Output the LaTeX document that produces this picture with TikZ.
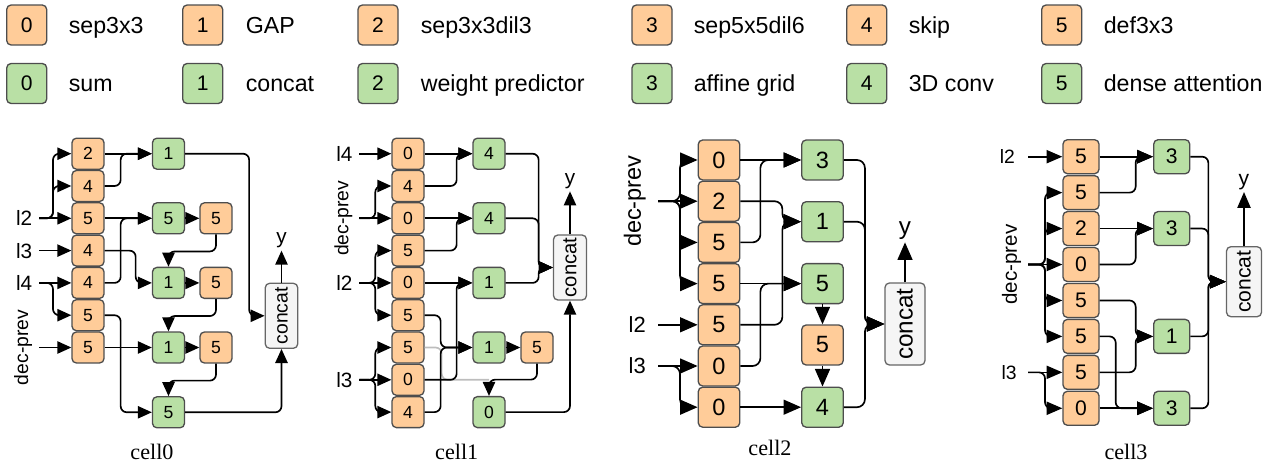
\documentclass[tikz,border=0pt]{standalone}
\usepackage{fontspec}
\setmainfont{Liberation Sans}
\newfontfamily\capfont{Liberation Serif}
\usetikzlibrary{arrows.meta,positioning}
\newcommand{\fsz}[1]{\fontsize{#1}{#1}\selectfont}

\definecolor{opfill}{HTML}{FFCC99}
\definecolor{aggfill}{HTML}{B9E0A5}
\definecolor{boxline}{HTML}{4D4D4D}
\definecolor{catfill}{HTML}{F5F5F5}
\definecolor{catline}{HTML}{666666}
\definecolor{skipgray}{HTML}{BDBDBD}

\tikzset{
  op/.style={draw=boxline, fill=opfill, rounded corners=2.5pt, line width=0.75pt, inner sep=0pt},
  agg/.style={op, fill=aggfill},
  catbox/.style={draw=catline, fill=catfill, rounded corners=2.5pt, line width=0.75pt, inner sep=0pt},
  small/.style={minimum width=0.64cm, minimum height=0.62cm, font=\fsz{10}},
  medium/.style={minimum width=0.72cm, minimum height=0.68cm, font=\fsz{12}},
  large/.style={minimum width=0.83cm, minimum height=0.8cm, font=\fsz{13.4}},
  legend/.style={minimum width=0.8cm, minimum height=0.8cm, font=\fsz{12}},
  legtext/.style={anchor=base west, inner sep=0pt, font=\fsz{13.2}},
  inl/.style={anchor=east, inner sep=3.4pt, font=\fsz{11.8}},
  outl/.style={inner sep=1pt, font=\fsz{11.8}},
  cellname/.style={font=\capfont\fsz{12.6}},
  wire/.style={->, rounded corners=3.5pt}
}

\begin{document}
\begin{tikzpicture}[x=0.02cm, y=-0.02cm, line width=0.95pt, >={Triangle[length=8pt,width=7pt]}]
 \useasboundingbox (0,0) rectangle (1271,466);

 % legend
 \foreach \t/\bx/\tx/\txt in {0/26.7/68/sep3x3, 1/202.7/245/GAP, 2/378/420/sep3x3dil3,
     3/652/693/sep5x5dil6, 4/866.7/908/skip, 5/1061.7/1103/def3x3} {
   \node[op, legend] (lo\t) at (\bx,25) {\t};
   \node[legtext] (lot\t) at (\tx,33.3) {\txt};
 }
 \foreach \t/\bx/\tx/\txt in {0/26.7/68/sum, 1/202.7/245/concat, 2/378/420/weight predictor,
     3/652/693/affine grid, 4/866.7/908/3D conv, 5/1061.7/1103/dense attention} {
   \node[agg, legend] (lg\t) at (\bx,83.5) {\t};
   \node[legtext] (lgt\t) at (\tx,91.7) {\txt};
 }

 % cell0
 \foreach \t [count=\i] in {2,4,5,4,4,5,5}
   \node[op, small] (c0o\i) at (88,{153.7+32.3*(\i-1)}) {\t};
 \node[agg, small] (c0g1) at (168.5,0 |- c0o1) {1};
 \node[agg, small] (c0g2) at (168.5,0 |- c0o3) {5};
 \node[agg, small] (c0g3) at (168.5,0 |- c0o5) {1};
 \node[agg, small] (c0g4) at (168.5,0 |- c0o7) {1};
 \node[agg, small] (c0g5) at (168.5,412.3) {5};
 \node[op, small] (c0p1) at (216,0 |- c0o3) {5};
 \node[op, small] (c0p2) at (216,0 |- c0o5) {5};
 \node[op, small] (c0p3) at (216,0 |- c0o7) {5};
 \node[catbox, minimum width=0.65cm, minimum height=1.3cm, font=\fsz{11}] (c0cat) at (281.5,315.8) {\rotatebox{90}{concat}};
 \node[outl, above=0.64cm of c0cat] (c0y) {y};
 \node[inl] (c0l2) at (39,0 |- c0o3) {l2};
 \node[inl] (c0l3) at (39,0 |- c0o4) {l3};
 \node[inl] (c0l4) at (39,0 |- c0o5) {l4};
 \node[inl, font=\fsz{11}] (c0dp) at (39,0 |- c0o7) {\rotatebox{90}{dec-prev}};
 \node[cellname] (c0name) at (152,452) {cell0};

 \draw[->] (c0l2.east) -- (c0o3.west);
 \draw[wire] (c0l2.east) -- ++(14,0) |- (c0o1.west);
 \draw[wire] (c0l2.east) -- ++(14,0) |- (c0o2.west);
 \draw[->] (c0l3.east) -- (c0o4.west);
 \draw[->] (c0l4.east) -- (c0o5.west);
 \draw[wire] (c0l4.east) -- ++(14,0) |- (c0o6.west);
 \draw[->] (c0dp.east) -- (c0o7.west);
 \draw[->] (c0o1.east) -- (c0g1.west);
 \draw[wire] (c0o2.east) -- ++(16,0) |- (c0g1.west);
 \draw[->] (c0o3.east) -- (c0g2.west);
 \draw[wire] (c0o5.east) -- ++(16,0) |- (c0g2.west);
 \draw[->] (c0g2) -- (c0p1);
 \draw[wire] (c0p1.south) -- ++(0,17) -| (c0g3.north);
 \draw[wire] (c0o4.east) -- ++(31,0) |- (c0g3.west);
 \draw[->] (c0g3) -- (c0p2);
 \draw[wire] (c0p2.south) -- ++(0,17) -| (c0g4.north);
 \draw[->] (c0o7.east) -- (c0g4.west);
 \draw[->] (c0g4) -- (c0p3);
 \draw[wire] (c0p3.south) -- ++(0,17) -| (c0g5.north);
 \draw[wire] (c0o6.east) -- ++(16,0) |- (c0g5.west);
 \draw[wire] (c0g1.east) -- ++(64,0) |- (c0cat.west);
 \draw[wire] (c0g5.east) -| (c0cat.south);
 \draw[->] (c0cat) -- (c0y);

 % cell1
 \foreach \t [count=\i] in {0,4,0,5,0,5,5,0,4}
   \node[op, small] (c1o\i) at (408,{153.7+32.3*(\i-1)}) {\t};
 \node[agg, small] (c1g1) at (489,0 |- c1o1) {4};
 \node[agg, small] (c1g2) at (489,0 |- c1o3) {4};
 \node[agg, small] (c1g3) at (489,0 |- c1o5) {1};
 \node[agg, small] (c1g4) at (489,0 |- c1o7) {1};
 \node[agg, small] (c1g5) at (489,0 |- c1o9) {0};
 \node[op, small] (c1p1) at (537,0 |- c1o7) {5};
 \node[catbox, minimum width=0.66cm, minimum height=1.3cm, font=\fsz{11.5}] (c1cat) at (570,267.5) {\rotatebox{90}{concat}};
 \node[outl, above=0.86cm of c1cat] (c1y) {y};
 \node[inl] (c1l4) at (359.3,0 |- c1o1) {l4};
 \node[inl, font=\fsz{11}] (c1dp) at (359.3,0 |- c1o3) {\rotatebox{90}{dec-prev}};
 \node[inl] (c1l2) at (359.3,0 |- c1o5) {l2};
 \node[inl] (c1l3) at (359.3,0 |- c1o8) {l3};
 \node[cellname] (c1name) at (456.7,451.7) {cell1};

 \draw[skipgray, rounded corners=3.5pt] (c1o7.east) -- ++(17,0) |- (c1g5.north |- c1o8.east);
 \draw[->] (c1l4.east) -- (c1o1.west);
 \draw[->] (c1dp.east) -- (c1o3.west);
 \draw[wire] (c1dp.east) -- ++(16,0) |- (c1o2.west);
 \draw[->] (c1l2.east) -- (c1o5.west);
 \draw[wire] (c1l2.east) -- ++(16,0) |- (c1o4.west);
 \draw[wire] (c1l2.east) -- ++(16,0) |- (c1o6.west);
 \draw[->] (c1l3.east) -- (c1o8.west);
 \draw[wire] (c1l3.east) -- ++(16,0) |- (c1o7.west);
 \draw[wire] (c1l3.east) -- ++(16,0) |- (c1o9.west);
 \draw[->] (c1o1.east) -- (c1g1.west);
 \draw[wire] (c1o2.east) -- ++(32,0) |- (c1g1.west);
 \draw[->] (c1o3.east) -- (c1g2.west);
 \draw[wire] (c1o4.east) -- ++(32,0) |- (c1g2.west);
 \draw[->] (c1o5.east) -- (c1g3.west);
 \draw[wire] (c1o8.east) -- ++(32,0) |- (c1g3.west);
 \draw[wire] (c1o6.east) -- ++(16,0) |- (c1g4.west);
 \draw[wire] (c1o9.east) -- ++(16,0) |- (c1g4.west);
 \draw[->] (c1g4) -- (c1p1);
 \draw[wire] (c1p1.south) -- ++(0,16) -| (c1g5.north);
 \draw[wire] (c1g1.east) -- ++(33,0) |- (c1cat.west);
 \draw[wire] (c1g2.east) -- ++(33,0) |- (c1cat.west);
 \draw[wire] (c1g3.east) -- ++(33,0) |- (c1cat.west);
 \draw[wire] (c1g5.east) -| (c1cat.south);
 \draw[->] (c1cat) -- (c1y);

 % cell2
 \begin{scope}[>={Triangle[length=10pt,width=8.5pt]}, wire/.style={->, rounded corners=4.5pt}]
 \foreach \t [count=\i] in {0,2,5,5,5,0,0}
   \node[op, large] (c2o\i) at (719,{160+41.2*(\i-1)}) {\t};
 \node[agg, large] (c2g1) at (822.5,0 |- c2o1) {3};
 \node[agg, large] (c2g2) at (822.5,221.7) {1};
 \node[agg, large] (c2g3) at (822.5,0 |- c2o4) {5};
 \node[op, large] (c2p1) at (822.5,345) {5};
 \node[agg, large] (c2g4) at (822.5,0 |- c2o7) {4};
 \node[catbox, minimum width=0.8cm, minimum height=1.64cm, font=\fsz{13.8}] (c2cat) at (905,324) {\rotatebox{90}{concat}};
 \node[outl, font=\fsz{13.8}, above=0.8cm of c2cat] (c2y) {y};
 \node[inl, inner sep=6.5pt, font=\fsz{13.4}] (c2dp) at (658,0 |- c2o2) {\rotatebox{90}{dec-prev}};
 \node[inl, inner sep=6.5pt, font=\fsz{12.5}] (c2l2) at (658,0 |- c2o5) {l2};
 \node[inl, inner sep=6.5pt, font=\fsz{12.5}] (c2l3) at (658,0 |- c2o6) {l3};
 \node[cellname] (c2name) at (770,448) {cell2};

 \draw[->] (c2dp.east) -- (c2o2.west);
 \draw[wire] (c2dp.east) -- ++(22,0) |- (c2o1.west);
 \draw[wire] (c2dp.east) -- ++(22,0) |- (c2o3.west);
 \draw[wire] (c2dp.east) -- ++(22,0) |- (c2o4.west);
 \draw[->] (c2l2.east) -- (c2o5.west);
 \draw[->] (c2l3.east) -- (c2o6.west);
 \draw[wire] (c2l3.east) -- ++(22,0) |- (c2o7.west);
 \draw[->] (c2o1.east) -- (c2g1.west);
 \draw[wire] (c2o3.east) -- ++(20,0) |- (c2g1.west);
 \draw[wire] (c2o2.east) -- ++(42,0) |- (c2g2.west);
 \draw[wire] (c2o5.east) -- ++(42,0) |- (c2g2.west);
 \draw[->] (c2o4.east) -- (c2g3.west);
 \draw[wire] (c2o6.east) -- ++(20,0) |- (c2g3.west);
 \draw[->] (c2g3) -- (c2p1);
 \draw[->] (c2p1) -- (c2g4);
 \draw[->] (c2o7.east) -- (c2g4.west);
 \draw[wire] (c2g1.east) -- ++(21,0) |- (c2cat.west);
 \draw[wire] (c2g2.east) -- ++(21,0) |- (c2cat.west);
 \draw[wire] (c2g4.east) -- ++(21,0) |- (c2cat.west);
 \draw[->] (c2cat) -- (c2y);
 \end{scope}

 % cell3
 \begin{scope}[>={Triangle[length=9pt,width=7.5pt]}]
 \foreach \t [count=\i] in {5,5,2,0,5,5,5,0}
   \node[op, medium] (c3o\i) at (1081,{156.7+35.94*(\i-1)}) {\t};
 \node[agg, medium] (c3g1) at (1171.7,0 |- c3o1) {3};
 \node[agg, medium] (c3g2) at (1171.7,0 |- c3o3) {3};
 \node[agg, medium] (c3g3) at (1171.7,0 |- c3o6) {1};
 \node[agg, medium] (c3g4) at (1171.7,0 |- c3o8) {3};
 \node[catbox, minimum width=0.7cm, minimum height=1.4cm, font=\fsz{12}] (c3cat) at (1244,281.7) {\rotatebox{90}{concat}};
 \node[outl, font=\fsz{12}, above=1.08cm of c3cat] (c3y) {y};
 \node[inl, inner sep=7pt, font=\fsz{11}] (c3l2) at (1028,0 |- c3o1) {l2};
 \node[inl, inner sep=3.4pt, font=\fsz{11.7}] (c3dp) at (1028,0 |- c3o4) {\rotatebox{90}{dec-prev}};
 \node[inl, inner sep=6pt, font=\fsz{11}] (c3l3) at (1028,0 |- c3o7) {l3};
 \node[cellname] (c3name) at (1126,451.7) {cell3};

 \draw[->] (c3l2.east) -- (c3o1.west);
 \draw[->] (c3dp.east) -- (c3o4.west);
 \foreach \k in {2,3,5,6}
   \draw[wire] (c3dp.east) -- ++(17,0) |- (c3o\k.west);
 \draw[->] (c3l3.east) -- (c3o7.west);
 \draw[wire] (c3l3.east) -- ++(17,0) |- (c3o8.west);
 \draw[->] (c3o1.east) -- (c3g1.west);
 \draw[wire] (c3o2.east) -- ++(36,0) |- (c3g1.west);
 \draw[->] (c3o3.east) -- (c3g2.west);
 \draw[wire] (c3o4.east) -- ++(36,0) |- (c3g2.west);
 \draw[wire] (c3o5.east) -- ++(36,0) |- (c3g3.west);
 \draw[wire] (c3o7.east) -- ++(36,0) |- (c3g3.west);
 \draw[wire] (c3o6.east) -- ++(16,0) |- (c3g4.west);
 \draw[->] (c3o8.east) -- (c3g4.west);
 \foreach \k in {1,...,4}
   \draw[wire] (c3g\k.east) -- ++(18,0) |- (c3cat.west);
 \draw[->] (c3cat) -- (c3y);
 \end{scope}
\end{tikzpicture}
\end{document}
